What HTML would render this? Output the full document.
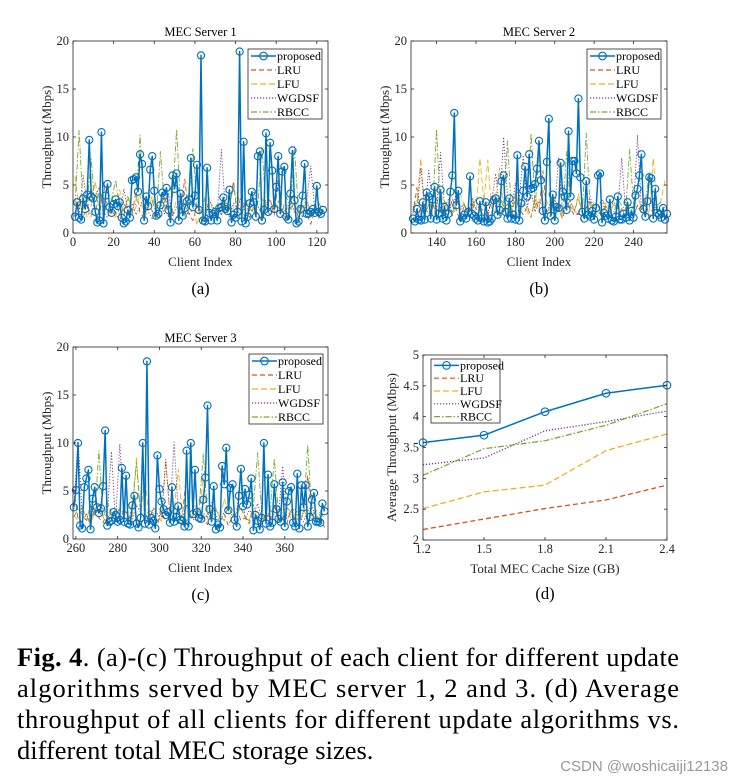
<!DOCTYPE html>
<html><head><meta charset="utf-8"><style>
html,body{margin:0;padding:0;background:#fff;}
svg{display:block;}
</style></head><body>
<svg id="fig" width="744" height="784" viewBox="0 0 744 784" xmlns="http://www.w3.org/2000/svg" font-family="'Liberation Serif', serif">
<text x="17" y="666" font-size="26.5" fill="#000" textLength="662" lengthAdjust="spacing"><tspan font-weight="bold">Fig. 4</tspan>. (a)-(c) Throughput of each client for different update</text>
<text x="17" y="697" font-size="26.5" fill="#000" textLength="662" lengthAdjust="spacing">algorithms served by MEC server 1, 2 and 3.  (d) Average</text>
<text x="17" y="728" font-size="26.5" fill="#000" textLength="662" lengthAdjust="spacing">throughput of all clients for different update algorithms vs.</text>
<text x="17" y="759" font-size="26.5" fill="#000">different total MEC storage sizes.</text>
<text x="728" y="771" font-size="15" fill="#999" text-anchor="end" font-family="'Liberation Sans', sans-serif">CSDN @woshicaiji12138</text>
</svg>
<script>
// ---------- Panel (a) data ----------
const aStart = 1;
const aProposed = [1.7,3.2,1.6,1.4,3.6,2.5,4,9.7,3.8,3.6,2.2,1.1,1.3,10.5,1,3.9,5.1,2.7,2.1,3,3.5,2.8,3.2,1.6,1,1.2,2.4,1.6,5.5,5.6,5.8,4.3,8.2,7.2,1.3,3.8,2.8,6.6,8,4.4,1.8,2,2.9,4.2,3.9,4.7,2.4,1.1,6,4.6,6.2,1.3,4.1,1.8,2.6,3.3,3.5,7.8,2.7,3.9,7.1,2.4,18.5,1.3,1.2,6.8,2.1,1.3,2,2.2,1.3,2.6,2.7,3.7,2.5,2.3,4.5,1.1,1.9,1.6,2.2,18.9,1.2,9.5,1,1.7,3.1,4.3,3.2,1.7,8,8.5,1.3,2.4,10.4,2.2,9.4,6.5,2.5,4.8,8,2,6.4,6.9,1.7,1.4,4.1,8.6,3.4,1,1.2,2.5,3.9,7.2,2,2,2.2,2.5,2.1,4.9,2.2,2,2.4];
const aLRU = [2,3.5,1.8,2.4,4.8,2,1.5,5.3,2.6,1.9,2.2,1.2,3,2.5,1.8,4.4,2.1,1.6,3.1,2.3,1.4,2.8,3.9,1.7,2.2,1.6,2.5,5.6,2,1.3,2.9,1.5,0.8,2.4,1.7,2.6,1.9,3.2,2.8,5.4,1.5,2.2,3.4,1.6,2.7,2,1.2,2.5,3.6,1.8,5.5,2.3,1.4,2.6,3.1,1.5,2.9,2,0.9,2.4,1.7,2.2];
const aLFU = [5.9,2.4,3.8,1.6,2.9,5.4,2.2,1.7,3.3,2.6,1.5,4.5,2.1,3.6,1.8,2.7,4.1,1.4,2.5,3.9,2.2,1.6,3.4,2.8,1.9,3.5,4.2,1.7,2.4,3.1,0.8,2.6,1.5,3.7,2.3,1.9,2.8,3.3,1.6,2.5,4.4,2,1.8,3,2.4,1.3,3.6,2.7,1.9,2.2,3.4,1.6,2.9,2.1,3.8,1.7,2.5,3.2,2,2.8,1.5,2.4];
const aWGDSF = [3.2,2.1,6,2.8,1.7,3.9,4.8,2.2,1.6,2.9,3.5,1.8,4.6,2.4,3.1,1.9,2.7,3.8,2.2,1.5,2.6,3.3,2,4.1,1.7,2.8,3.6,2.3,1.9,2.5,3,2.1,1.6,3.4,2.7,2,8.7,2.4,1.8,3.1,2.6,3.9,1.7,2.3,4.5,2.8,1.9,3.2,2.2,2.7,5.1,1.8,2.5,3.4,2.1,2.9,1.6,3.3,7,2.4,1.9,2.6];
const aRBCC = [3,10.7,2.5,3.2,7.7,1.9,4.6,2.8,2.2,3.5,5.5,2.6,1.8,3.9,2.4,3.1,10.2,2,2.7,3.4,1.6,8.5,2.9,2.2,3.6,10.8,2.5,1.9,3.3,8.8,2.8,2.1,3.7,2.4,1.8,2.6,3.2,2,2.9,4.8,2.3,1.7,3.5,2.6,2.1,3,8.9,2.4,1.9,3.3,2.7,2.2,3.8,2.5,9,2,2.8,3.4,2.2,2.6,3.1,2.4];
const aTicks = [0,20,40,60,80,100,120];
// ---------- Panel (b) data ----------
const bStart = 128;
const bProposed = [1.5,1.2,2.5,1.4,1.3,3.2,1.4,4.2,3.8,1.5,3.5,4.8,1.4,2,4.5,1.5,2.7,1.3,2,4.3,6,12.5,2.9,4.4,1.2,1.6,1.9,1.5,2.2,5.9,2,1.8,1.5,1.3,3.3,1.5,1.2,3.2,1.1,1.2,1.5,3.4,3.6,1.9,2.4,5.4,6,2.2,1.5,3.6,1.5,1.9,1.4,8.1,1.3,3.1,4.4,6.9,3.8,8.2,4.6,4.7,5.1,6.7,9.6,5.5,2.3,1.3,7.4,11.9,1.8,4,1.3,2.7,2.6,7.3,4.3,3.8,2.4,10.6,3.8,7.5,7.5,6.2,14,5.8,2.2,1.5,5.4,1.9,1.7,2.3,1.4,2.6,6,6.2,1.1,2.1,1.8,1.5,3.5,1.3,1.2,1.7,3.8,1.4,1.4,2,1.6,3.2,1.3,2.3,1.6,3.9,4.6,6,8.2,2.5,1.7,3.3,5.8,5.7,1.5,4.6,2.1,1.9,1.6,2.6,1.4,2];
const bLRU = [2,4.7,1.5,2.8,1.9,3.3,1.4,2.5,2.2,1.8,3.6,2.4,1.3,2.9,2.1,3.4,1.6,2.6,2.3,1.5,3.9,2.7,1.8,2.2,3.1,1.4,4.1,2.5,1.9,2.8,1.6,3.5,2.3,6.5,2,1.7,2.9,2.4,1.5,3.2,2.6,1.8,2.1,1.2,2.7,3.3,1.9,2.4,1.6,2.8,2.2,1.4,3,2.5,1.8,2.3,1.6,2.9,2.1,3.4,1.7,2.6,1.5,2.2,1.9];
const bLFU = [2.5,3.1,7.8,2.2,3.8,1.9,2.9,4.5,2.3,3.2,1.8,2.6,4.1,2.9,1.7,3.5,2.4,7.8,3.3,7.6,2.1,3.8,6.8,2.5,3.1,1.9,4.2,2.8,3.5,2.2,1.6,3.9,2.7,4.5,3.3,2.1,3.7,2.5,1.8,2.9,3.4,2.2,4.1,1.9,2.6,3.1,2.4,1.7,3.6,2.8,2.2,3,1.9,2.5,3.3,2.1,2.8,4.2,2.4,3.1,1.8,7.8,2.6,3.4,5.5];
const bWGDSF = [2.8,1.9,6.8,2.4,6.5,3.1,2.2,8.4,2.7,3.5,2,4.3,2.6,3,1.8,3.7,2.4,2.9,3.2,2.1,3.4,6.2,2.5,10,3.8,2.3,5.2,3.6,8.1,2.7,4.4,2.2,3.3,2.8,1.9,3.5,2.5,7.9,2.1,2.9,3.3,2.4,1.8,3.1,2.6,3.8,2.2,2.9,3.4,2.1,2.7,3.2,2.5,7.8,2.3,3,2.6,10.2,2.4,3.1,2.8,3.6,2.2,2.9,2.5];
const bRBCC = [2.2,3.4,2.6,1.9,3,2.5,10.8,2.1,3.3,2.7,1.8,3.6,2.4,3.1,2,2.8,3.5,2.3,1.9,3.2,2.6,2.1,3.8,2.7,9.6,2.4,3.3,2,2.9,3.5,10.4,2.6,8.4,3.1,2.2,2.8,3.4,2.5,1.9,8.5,2.7,2.3,3.6,2.1,10.4,2.4,3.2,2.8,2,3.1,2.6,2.2,3.5,2.9,2.3,8.7,3,2.4,2.7,3.3,6.3,2.5,2.9,3.2,2.6];
const bTicks = [140,160,180,200,220,240];
// ---------- Panel (c) data ----------
const cStart = 259;
const cProposed = [3.3,5.1,10,1.4,1.1,5.4,6.3,7.2,1,4.2,5.4,3.3,2.7,3.2,5.5,11.3,1.4,1.8,1.9,2.8,2.5,1.8,2,7.4,1.8,6.6,1.6,1.5,3.5,4.5,1.6,1.2,2.2,10,1.6,18.5,1.5,2.2,1.9,1.1,8.7,5.2,3.9,3.1,2.5,2.8,1.7,5.4,1.8,2.3,3.4,2,1.9,1.3,9.2,1.3,10,2.6,7.2,2.8,2.2,2.1,4.1,6.4,13.9,3.1,1.8,5.5,1,1.5,1.2,7.6,5.7,9.5,3,5.3,5.7,2,1.3,4.5,7.3,3.4,5.2,3.6,4.6,6.3,0.9,2.5,1.9,1,2.2,10,1.6,6.7,1.3,1.7,5.7,3.1,2.1,1.8,5.9,1.3,3.9,5,5.4,1.7,1.3,6.8,1.1,5.6,3.3,5.6,1.3,2.3,4.1,4.8,1.8,1.8,1.7,3.7,2.9];
const cLRU = [5.2,2.1,1.8,2.6,1.5,3.2,2.2,1.7,2.8,1.4,2.3,1.9,3.1,2.5,1.6,2.2,1.3,2.7,1.9,2.4,1.5,2.9,1.8,2.2,3.4,1.6,2.5,6.9,2,2.8,1.7,2.3,1.5,3,2.1,1.8,2.6,1.4,2.4,3.2,1.9,2.2,1.6,2.8,2.3,1.5,2.7,2,3.5,1.8,2.4,1.6,3.1,2.2,1.9,2.6,6.6,2.1,1.7,2.5,1.2];
const cLFU = [2.5,1.9,3.4,2.2,1.6,2.8,3.7,2.3,1.8,3.1,2.6,1.5,2.9,3.6,2.1,8.6,2.4,6.8,1.9,3.3,2.7,1.7,8.2,2.5,3,7.3,2.2,1.8,2.9,3.5,2.4,6.4,1.9,2.6,3.2,2.1,4.2,2.8,1.7,2.5,3.4,2.3,1.9,3.6,2.2,2.7,1.6,3.1,2.4,1.8,2.9,3.3,2.1,2.6,1.7,3,2.3,2.8,1.9,2.4,2.6];
const cWGDSF = [3.1,10.5,2.4,1.9,3.6,2.7,2.2,3.3,2.5,9.1,1.8,9.9,3,2.4,2.1,3.5,2.8,2.2,1.9,3.2,2.6,2.3,8.3,2.5,10.1,2.9,2.2,3.6,2.4,1.9,3.1,2.7,2.2,3.8,2.5,1.8,2.9,3.4,2.3,2.6,7.3,2.1,3,2.5,3.7,2.2,1.9,2.8,3.3,2.4,7.6,2.1,2.7,3.2,2.3,1.8,2.9,3.5,2.2,2.6,3];
const cRBCC = [2.3,3.1,2.6,1.9,3.4,2.5,9.2,2.1,3.8,2.8,2.2,3.3,2.6,1.9,3.6,7.9,2.4,2.1,3,2.7,1.8,3.4,2.5,2.2,3.1,2.9,1.9,3.5,2.4,2.2,3.3,8.9,2.6,2.1,3,2.5,1.9,3.6,2.3,2.8,3.2,2.2,1.9,3.4,9,2.6,2.1,3,8.4,2.5,2.2,3.3,2.8,2,3.1,2.6,9.8,2.4,3,2.7,2.2];
const cTicks = [260,280,300,320,340,360];
const yTicksABC = [0,5,10,15,20];
// ---------- Panel (d) data ----------
const dSizes = [1.2,1.5,1.8,2.1,2.4];
const dSizeLabels = ["1.2","1.5","1.8","2.1","2.4"];
const dProposed = [3.58,3.7,4.08,4.38,4.51];
const dLRU = [2.17,2.34,2.51,2.65,2.89];
const dLFU = [2.51,2.78,2.89,3.45,3.72];
const dWGDSF = [3.22,3.33,3.77,3.92,4.09];
const dRBCC = [3.05,3.48,3.61,3.86,4.21];
const dYTicks = [2,2.5,3,3.5,4,4.5,5];
const dYTickLabels = ["2","2.5","3","3.5","4","4.5","5"];

const seriesNames = ["proposed","LRU","LFU","WGDSF","RBCC"];
const COLORS = {proposed:"#0072BD",LRU:"#D95319",LFU:"#EDB120",WGDSF:"#7E2F8E",RBCC:"#77AC30"};
const DASH = {proposed:"",LRU:"5,3",LFU:"6,3",WGDSF:"1.2,1.8",RBCC:"6,2,1.5,2"};

const NS = "http://www.w3.org/2000/svg";
const svg = document.getElementById("fig");
function mk(tag, attrs, parent){
  const e = document.createElementNS(NS, tag);
  for (const k in attrs) e.setAttribute(k, attrs[k]);
  (parent||svg).appendChild(e);
  return e;
}

function panel(cfg){
  const g = mk("g", {});
  
  
  const {L,R,T,B,xmin,xmax,ymin,ymax} = cfg;
  const sx = v => L + (v - xmin) / (xmax - xmin) * (R - L);
  const sy = v => B - (v - ymin) / (ymax - ymin) * (B - T);
  mk("rect", {x:L,y:T,width:R-L,height:B-T,fill:"#fff"}, g);
  cfg.series.forEach(s => {
    const sg = mk("g", {}, g);
    
    
    const pts = s.vals.map((v,i) => sx(s.xs ? s.xs[i] : s.start + i*s.step).toFixed(2) + "," + sy(v).toFixed(2)).join(" ");
    const pl = mk("polyline", {points:pts, fill:"none", stroke:COLORS[s.key], "stroke-width": s.key==="proposed"?1.5:(cfg.isD?1.3:0.9), "stroke-dasharray":DASH[s.key], "stroke-linejoin":"round"}, sg);
    
    
    if (s.key === "proposed") {
      s.vals.forEach((v,i) => {
        const c = mk("circle", {cx:sx(s.xs ? s.xs[i] : s.start + i*s.step), cy:sy(v), r:cfg.isD?3.8:3.6, fill:"none", stroke:COLORS.proposed, "stroke-width":1.1}, sg);
        
        
      });
    }
  });
  mk("rect", {x:L,y:T,width:R-L,height:B-T,fill:"none",stroke:"#262626","stroke-width":0.8}, g);
  cfg.xTicks.forEach((t,i) => {
    const x = sx(t);
    mk("line", {x1:x,y1:B,x2:x,y2:B-3,stroke:"#262626","stroke-width":0.8}, g);
    mk("line", {x1:x,y1:T,x2:x,y2:T+3,stroke:"#262626","stroke-width":0.8}, g);
    const tx = mk("text", {x:x,y:B+13,"font-size":12.5,"text-anchor":"middle",fill:"#262626"}, g);
    tx.textContent = cfg.xLabels ? cfg.xLabels[i] : t;
    
    
  });
  cfg.yTicks.forEach((t,i) => {
    const y = sy(t);
    mk("line", {x1:L,y1:y,x2:L+3,y2:y,stroke:"#262626","stroke-width":0.8}, g);
    mk("line", {x1:R,y1:y,x2:R-3,y2:y,stroke:"#262626","stroke-width":0.8}, g);
    const tx = mk("text", {x:L-4,y:y+4,"font-size":12.5,"text-anchor":"end",fill:"#262626"}, g);
    tx.textContent = cfg.yLabels ? cfg.yLabels[i] : t;
    
    
  });
  if (cfg.title) {
    const tt = mk("text", {x:(L+R)/2,y:T-5,"font-size":12.5,"text-anchor":"middle",fill:"#000"}, g);
    tt.textContent = cfg.title;
    
    
  }
  const xl = mk("text", {x:(L+R)/2,y:B+cfg.xlOff,"font-size":13,"text-anchor":"middle",fill:"#262626"}, g);
  xl.textContent = cfg.xLabel;
  
  
  const yx = cfg.ylX, yy = (T+B)/2;
  const yl = mk("text", {x:yx,y:yy,"font-size":13,"text-anchor":"middle",fill:"#262626",transform:`rotate(-90 ${yx} ${yy})`}, g);
  yl.textContent = cfg.yLabel;
  
  
  const sub = mk("text", {x:(L+R)/2,y:cfg.subY,"font-size":16.5,"text-anchor":"middle",fill:"#000"}, g);
  sub.textContent = cfg.sub;
  
  
  const lg = mk("g", {}, g);
  
  
  const lx = cfg.leg[0], ly = cfg.leg[1], lw = cfg.leg[2], lh = cfg.leg[3];
  mk("rect", {x:lx,y:ly,width:lw,height:lh,fill:"#fff",stroke:"#262626","stroke-width":0.8}, lg);
  const rowH = lh / 5;
  seriesNames.forEach((n,i) => {
    const cy = ly + rowH*(i+0.5);
    const e = mk("g", {}, lg);
    
    
    mk("line", {x1:lx+3,y1:cy,x2:lx+28,y2:cy,stroke:COLORS[n],"stroke-width":n==="proposed"?1.5:1.2,"stroke-dasharray":DASH[n]}, e);
    if (n==="proposed") mk("circle", {cx:lx+15.5,cy:cy,r:3.8,fill:"none",stroke:COLORS[n],"stroke-width":1.1}, e);
    const t = mk("text", {x:lx+29,y:cy+4,"font-size":12,fill:"#000"}, e);
    t.textContent = n;
  });
}

function mkSeries(start, step, arrs){
  return seriesNames.slice(1).map((k,i)=>({key:k, vals:arrs[i+1], start:start, step:step})).concat([{key:"proposed", vals:arrs[0], start:start, step:1}]);
}

panel({name:"panel-a", L:73,R:328,T:41,B:233,xmin:0,xmax:125.5,ymin:0,ymax:20,
  series:mkSeries(aStart,2,[aProposed,aLRU,aLFU,aWGDSF,aRBCC]),
  xTicks:aTicks,yTicks:yTicksABC,title:"MEC Server 1",xLabel:"Client Index",yLabel:"Throughput (Mbps)",
  xlOff:33,ylX:51,sub:"(a)",subY:294,leg:[248,49,74,70]});
panel({name:"panel-b", L:411,R:667,T:41,B:233,xmin:127,xmax:257,ymin:0,ymax:20,
  series:mkSeries(bStart,2,[bProposed,bLRU,bLFU,bWGDSF,bRBCC]),
  xTicks:bTicks,yTicks:yTicksABC,title:"MEC Server 2",xLabel:"Client Index",yLabel:"Throughput (Mbps)",
  xlOff:33,ylX:389,sub:"(b)",subY:294,leg:[587,49,74,70]});
panel({name:"panel-c", L:73,R:328,T:347,B:539,xmin:258.6,xmax:380.7,ymin:0,ymax:20,
  series:mkSeries(cStart,2,[cProposed,cLRU,cLFU,cWGDSF,cRBCC]),
  xTicks:cTicks,yTicks:yTicksABC,title:"MEC Server 3",xLabel:"Client Index",yLabel:"Throughput (Mbps)",
  xlOff:33,ylX:51,sub:"(c)",subY:600,leg:[249,354,74,70]});
panel({name:"panel-d", isD:true, L:423,R:667,T:355,B:540,xmin:1.2,xmax:2.4,ymin:2,ymax:5,
  series:[{key:"LRU",vals:dLRU,xs:dSizes},{key:"LFU",vals:dLFU,xs:dSizes},{key:"WGDSF",vals:dWGDSF,xs:dSizes},{key:"RBCC",vals:dRBCC,xs:dSizes},{key:"proposed",vals:dProposed,xs:dSizes}],
  xTicks:dSizes,xLabels:dSizeLabels,yTicks:dYTicks,yLabels:dYTickLabels,xLabel:"Total MEC Cache Size (GB)",yLabel:"Average Throughput (Mbps)",
  xlOff:33,ylX:396,sub:"(d)",subY:599,leg:[431,359,69,64]});
</script>
</body></html>
